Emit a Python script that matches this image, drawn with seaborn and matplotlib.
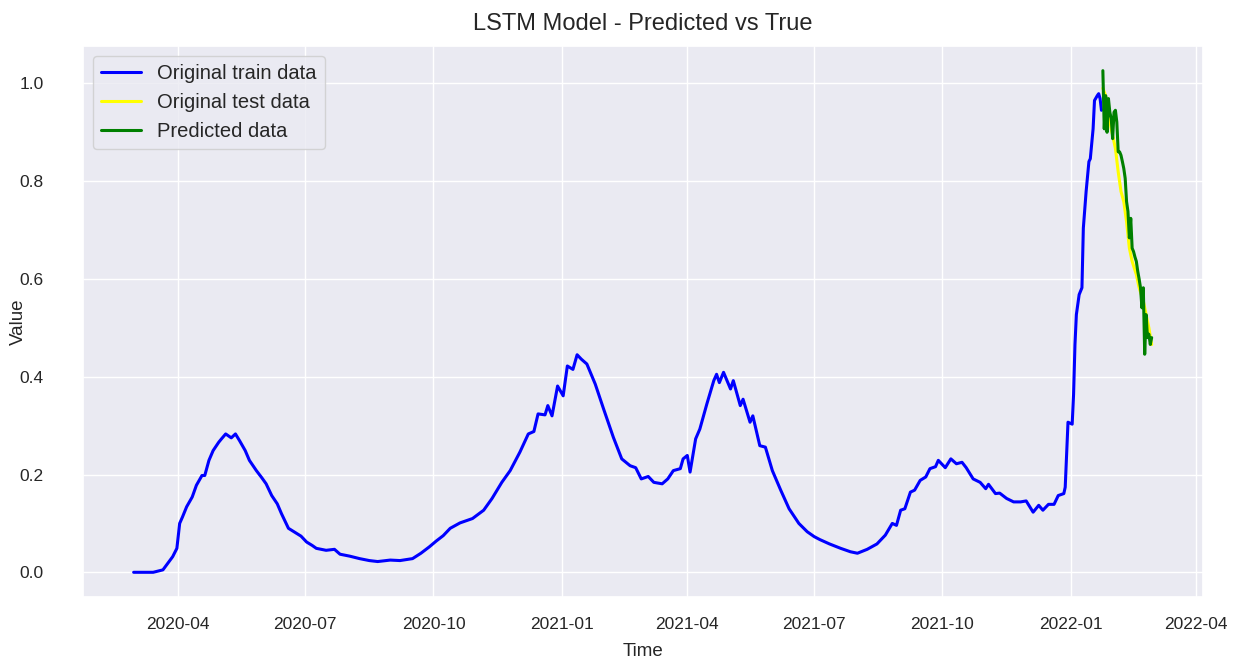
import numpy as np
import pandas as pd
import matplotlib
matplotlib.use("Agg")
import matplotlib.pyplot as plt
import seaborn as sns

start_date = "2020-04-01"

train_day = [-32, -25, -18, -11, -4, -1, 1, 3, 6, 10, 13, 17, 19, 22, 25, 29, 31, 34, 38, 41,
             44, 48, 51, 56, 60, 63, 67, 71, 74, 79, 83, 88, 92, 96, 99, 106, 112, 116, 123, 130,
             137, 143, 152, 159, 168, 174, 180, 185, 190, 195, 202, 211, 219, 225, 232, 238, 245, 251, 255, 258,
             263, 265, 268, 272, 276, 279, 283, 286, 289, 293, 299, 305, 312, 318, 324, 328, 332, 337, 341, 347,
             351, 355, 360, 362, 365, 367, 371, 374, 379, 384, 386, 388, 391, 396, 398, 403, 405, 410, 412, 417,
             421, 426, 432, 438, 445, 451, 456, 460, 467, 475, 482, 487, 494, 501, 507, 512, 515, 518, 521, 525,
             528, 532, 536, 539, 543, 545, 550, 554, 558, 562, 565, 570, 575, 579, 581, 586, 589, 594, 599, 604,
             608, 613, 617, 620, 624, 628, 631, 635, 636, 638, 641, 642, 643, 644, 646, 648, 649, 651, 653, 654,
             656, 657, 659, 660, 661, 662]
train_value = [0.0, 0.0, 0.0, 0.005, 0.032, 0.049, 0.100, 0.113, 0.134, 0.154, 0.178, 0.198, 0.198, 0.229, 0.249, 0.266, 0.273, 0.283, 0.275, 0.283,
               0.269, 0.249, 0.229, 0.208, 0.193, 0.181, 0.157, 0.140, 0.120, 0.090, 0.083, 0.074, 0.062, 0.055, 0.049, 0.045, 0.047, 0.037, 0.033, 0.028,
               0.024, 0.022, 0.025, 0.024, 0.028, 0.039, 0.052, 0.064, 0.075, 0.090, 0.101, 0.110, 0.127, 0.151, 0.184, 0.208, 0.246, 0.283, 0.288, 0.324,
               0.322, 0.341, 0.320, 0.381, 0.361, 0.422, 0.415, 0.445, 0.436, 0.426, 0.385, 0.334, 0.276, 0.232, 0.218, 0.214, 0.191, 0.196, 0.184, 0.181,
               0.191, 0.208, 0.212, 0.232, 0.239, 0.205, 0.273, 0.293, 0.344, 0.392, 0.405, 0.388, 0.409, 0.375, 0.392, 0.341, 0.354, 0.307, 0.320, 0.259,
               0.256, 0.208, 0.168, 0.130, 0.100, 0.083, 0.073, 0.067, 0.058, 0.049, 0.042, 0.039, 0.047, 0.058, 0.076, 0.100, 0.096, 0.127, 0.130, 0.164,
               0.168, 0.188, 0.195, 0.212, 0.216, 0.229, 0.214, 0.232, 0.222, 0.225, 0.214, 0.191, 0.184, 0.171, 0.180, 0.161, 0.162, 0.151, 0.144, 0.144,
               0.146, 0.123, 0.137, 0.127, 0.139, 0.139, 0.157, 0.161, 0.174, 0.307, 0.303, 0.364, 0.466, 0.527, 0.568, 0.582, 0.704, 0.779, 0.840, 0.846,
               0.907, 0.965, 0.975, 0.979, 0.969, 0.945]

test_day = [663, 665, 667, 669, 672, 674, 676, 678, 680, 682, 684, 687, 689, 692, 694, 696, 698]
test_value = [0.990, 0.975, 0.941, 0.907, 0.867, 0.819, 0.779, 0.758, 0.717, 0.663, 0.636, 0.609, 0.582, 0.555, 0.527, 0.500, 0.466]

pred_day = list(range(663, 699))
pred_value = [1.026, 0.907, 0.975, 0.900, 0.969, 0.941, 0.928, 0.887, 0.941, 0.945, 0.921, 0.860, 0.860, 0.853, 0.840, 0.826, 0.806, 0.758,
              0.738, 0.684, 0.724, 0.663, 0.656, 0.645, 0.636, 0.616, 0.600, 0.582, 0.541, 0.582, 0.446, 0.527, 0.480, 0.487, 0.466, 0.480]

def to_dates(days):
    return pd.Timestamp(start_date) + pd.to_timedelta(days, unit="D")

train_df = pd.DataFrame({"Time": to_dates(train_day), "Value": train_value})
test_df = pd.DataFrame({"Time": to_dates(test_day), "Value": test_value})
pred_df = pd.DataFrame({"Time": to_dates(pred_day), "Value": pred_value})

sns.set_theme(style="darkgrid")
plt.rcParams["font.family"] = ["Liberation Sans", "DejaVu Sans"]

fig, ax = plt.subplots(figsize=(12.48, 6.59), dpi=100)
fig.subplots_adjust(left=0.0663, right=0.9636, top=0.9308, bottom=0.0935)

sns.lineplot(data=train_df, x="Time", y="Value", color="blue", lw=2.2, label="Original train data", ax=ax)
sns.lineplot(data=test_df, x="Time", y="Value", color="yellow", lw=2.2, label="Original test data", ax=ax)
sns.lineplot(data=pred_df, x="Time", y="Value", color="green", lw=2.2, label="Predicted data", ax=ax)

ax.set_title("LSTM Model - Predicted vs True", fontsize=17, pad=11)
ax.set_xlabel("Time", fontsize=13.5)
ax.set_ylabel("Value", fontsize=13.5)
ax.tick_params(axis="both", labelsize=12.5)
ax.tick_params(axis="x", pad=8)
ax.tick_params(axis="y", pad=22)
ax.xaxis.set_label_coords(0.5, -0.083)
ax.yaxis.set_label_coords(-0.05, 0.5)
ax.legend(loc="upper left", fontsize=14.5)

fig.savefig("out.png", dpi=100)
